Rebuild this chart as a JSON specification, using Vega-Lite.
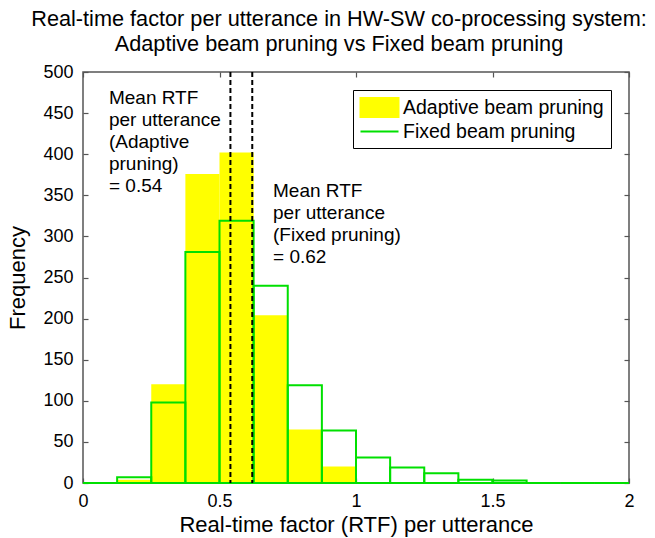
{
  "$schema": "https://vega.github.io/schema/vega-lite/v6.json",
  "width": 546,
  "height": 411,
  "autosize": {"type": "none"},
  "padding": {"left": 83, "top": 72, "right": 26, "bottom": 55},
  "background": "white",
  "title": {
    "text": ["Real-time factor per utterance in HW-SW co-processing system:", "Adaptive beam pruning vs Fixed beam pruning"],
    "fontSize": 21.7, "fontWeight": "normal", "font": "Liberation Sans", "color": "black",
    "offset": 7, "dx": -17, "lineHeight": 25
  },
  "config": {
    "font": "Liberation Sans",
    "view": {"stroke": "#555", "strokeWidth": 1.5},
    "axis": {
      "domain": false, "grid": false, "tickColor": "#555", "tickWidth": 1.2, "tickSize": -5,
      "labelPadding": 15, "labelFontSize": 18, "labelColor": "black", "labelFont": "Liberation Sans",
      "titleFontSize": 22, "titleFontWeight": "normal", "titleColor": "black", "titleFont": "Liberation Sans"
    }
  },
  "datasets": {
    "bins": [
      {"series": "Adaptive beam pruning", "x0": 0.125, "x1": 0.25, "count": 4},
      {"series": "Adaptive beam pruning", "x0": 0.25, "x1": 0.375, "count": 120},
      {"series": "Adaptive beam pruning", "x0": 0.375, "x1": 0.5, "count": 376},
      {"series": "Adaptive beam pruning", "x0": 0.5, "x1": 0.625, "count": 402},
      {"series": "Adaptive beam pruning", "x0": 0.625, "x1": 0.75, "count": 204},
      {"series": "Adaptive beam pruning", "x0": 0.75, "x1": 0.875, "count": 65},
      {"series": "Adaptive beam pruning", "x0": 0.875, "x1": 1.0, "count": 20},
      {"series": "Fixed beam pruning", "x0": 0.0, "x1": 0.125, "count": 0},
      {"series": "Fixed beam pruning", "x0": 0.125, "x1": 0.25, "count": 7},
      {"series": "Fixed beam pruning", "x0": 0.25, "x1": 0.375, "count": 98},
      {"series": "Fixed beam pruning", "x0": 0.375, "x1": 0.5, "count": 281},
      {"series": "Fixed beam pruning", "x0": 0.5, "x1": 0.625, "count": 319},
      {"series": "Fixed beam pruning", "x0": 0.625, "x1": 0.75, "count": 240},
      {"series": "Fixed beam pruning", "x0": 0.75, "x1": 0.875, "count": 119},
      {"series": "Fixed beam pruning", "x0": 0.875, "x1": 1.0, "count": 64},
      {"series": "Fixed beam pruning", "x0": 1.0, "x1": 1.125, "count": 31},
      {"series": "Fixed beam pruning", "x0": 1.125, "x1": 1.25, "count": 19},
      {"series": "Fixed beam pruning", "x0": 1.25, "x1": 1.375, "count": 12},
      {"series": "Fixed beam pruning", "x0": 1.375, "x1": 1.5, "count": 4},
      {"series": "Fixed beam pruning", "x0": 1.5, "x1": 1.625, "count": 3},
      {"series": "Fixed beam pruning", "x0": 1.625, "x1": 1.75, "count": 0},
      {"series": "Fixed beam pruning", "x0": 1.75, "x1": 1.875, "count": 0},
      {"series": "Fixed beam pruning", "x0": 1.875, "x1": 2.0, "count": 0}
    ],
    "means": [
      {"mean": 0.54, "label": "Adaptive"},
      {"mean": 0.62, "label": "Fixed"}
    ],
    "notes": [
      {"tx": 0.095, "ty": 479, "text": "Mean RTF\nper utterance\n(Adaptive\npruning)\n= 0.54"},
      {"tx": 0.696, "ty": 366, "text": "Mean RTF\nper utterance\n(Fixed pruning)\n= 0.62"}
    ]
  },
  "layer": [
    {
      "data": {"name": "bins"},
      "transform": [{"filter": "datum.series === 'Adaptive beam pruning'"}],
      "mark": {"type": "rect", "strokeWidth": 0},
      "encoding": {
        "x": {"field": "x0", "type": "quantitative", "scale": {"domain": [0, 2], "nice": false},
              "axis": {"values": [0, 0.5, 1, 1.5, 2], "format": "~g", "labelFlush": false, "labelPadding": 14, "title": "Real-time factor (RTF) per utterance", "titlePadding": 4}},
        "x2": {"field": "x1"},
        "y": {"field": "count", "type": "quantitative", "scale": {"domain": [0, 500], "nice": false},
              "axis": {"values": [0, 50, 100, 150, 200, 250, 300, 350, 400, 450, 500], "title": "Frequency", "titlePadding": 13}},
        "y2": {"datum": 0},
        "color": {
          "field": "series", "type": "nominal",
          "scale": {"domain": ["Adaptive beam pruning", "Fixed beam pruning"], "range": ["#ffff00", "#00e000"]},
          "legend": {
            "title": null, "orient": "top-right", "offset": 18,
            "strokeColor": "black", "fillColor": "white", "padding": 7,
            "labelFontSize": 19.5, "labelColor": "black", "labelFont": "Liberation Sans", "labelLimit": 0,
            "symbolSize": 361, "rowPadding": -4, "labelOffset": 13, "symbolOffset": 9,
            "encode": {
              "symbols": {
                "update": {
                  "shape": {"signal": "datum.value === 'Adaptive beam pruning' ? 'M-2,-1H2V1H-2Z' : 'M-2,0H2'"},
                  "fill": {"signal": "datum.value === 'Adaptive beam pruning' ? '#ffff00' : 'transparent'"},
                  "stroke": {"signal": "datum.value === 'Adaptive beam pruning' ? 'transparent' : '#00e000'"},
                  "strokeWidth": {"value": 2},
                  "opacity": {"value": 1}
                }
              }
            }
          }
        }
      }
    },
    {
      "data": {"name": "bins"},
      "transform": [{"filter": "datum.series === 'Fixed beam pruning'"}],
      "mark": {"type": "rect", "filled": false, "strokeWidth": 2, "opacity": 1},
      "encoding": {
        "x": {"field": "x0", "type": "quantitative",
              "axis": {"orient": "top", "labels": false, "title": null, "values": [0, 0.5, 1, 1.5, 2]}},
        "x2": {"field": "x1"},
        "y": {"field": "count", "type": "quantitative",
              "axis": {"orient": "right", "labels": false, "title": null, "values": [0, 50, 100, 150, 200, 250, 300, 350, 400, 450, 500]}},
        "y2": {"datum": 0},
        "color": {"field": "series", "type": "nominal"}
      }
    },
    {
      "data": {"name": "means"},
      "mark": {"type": "rule", "strokeDash": [5, 3], "strokeWidth": 2, "color": "black"},
      "encoding": {
        "x": {"field": "mean", "type": "quantitative", "axis": null}
      }
    },
    {
      "data": {"name": "notes"},
      "mark": {"type": "text", "align": "left", "baseline": "top", "fontSize": 19, "lineHeight": 22, "lineBreak": "\n", "font": "Liberation Sans", "color": "black"},
      "encoding": {
        "x": {"field": "tx", "type": "quantitative", "axis": null},
        "y": {"field": "ty", "type": "quantitative", "axis": null},
        "text": {"field": "text"}
      }
    }
  ],
  "resolve": {"axis": {"x": "independent", "y": "independent"}}
}
